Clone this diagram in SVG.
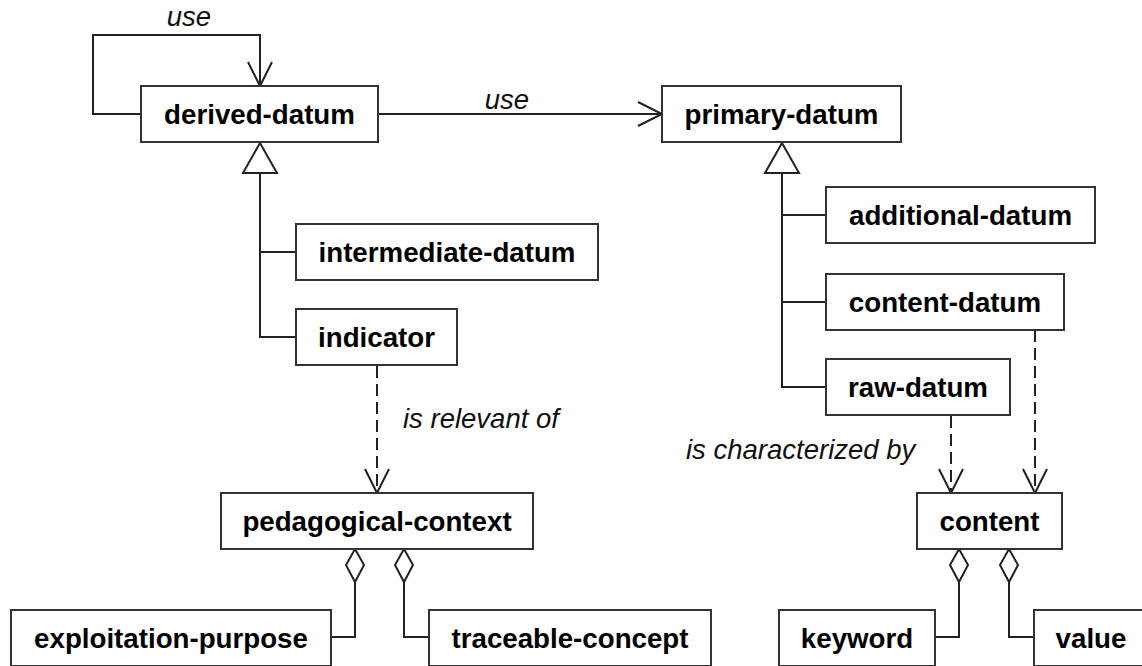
<svg xmlns="http://www.w3.org/2000/svg" width="1142" height="666" viewBox="0 0 1142 666">
<defs>
<style>
.box{fill:#fff;stroke:#333;stroke-width:2}
.t{font-family:"Liberation Sans",Arial,sans-serif;font-weight:bold;font-size:27.7px;fill:#000;text-anchor:middle}
.lbl{font-family:"Liberation Sans",Arial,sans-serif;font-style:italic;font-size:27.5px;fill:#111}
.ln{fill:none;stroke:#222;stroke-width:2}
.dash{fill:none;stroke:#222;stroke-width:2;stroke-dasharray:12,6}
.head{fill:none;stroke:#222;stroke-width:2}
.tri{fill:#fff;stroke:#222;stroke-width:2}
.dia{fill:#fff;stroke:#222;stroke-width:2}
</style>
</defs>
<rect width="1142" height="666" fill="#fff"/>
<g id="connectors">
<path class="ln" d="M141,114 H93 V35 H260 V86"/>
<path class="head" d="M248,62 L260,86 L272,62"/>
<text class="lbl" x="189" y="26" text-anchor="middle">use</text>
<path class="ln" d="M378,114 H662"/>
<path class="head" d="M638,102 L662,114 L638,126"/>
<text class="lbl" x="507" y="109" text-anchor="middle">use</text>
<path class="ln" d="M260,173 V337 H296 M260,252 H296"/>
<polygon class="tri" points="260,143 243,173 277,173"/>
<path class="ln" d="M782,173 V387 H826 M782,215 H826 M782,302 H826"/>
<polygon class="tri" points="782,143 765,173 799,173"/>
<path class="dash" d="M377,366 V492"/>
<path class="head" d="M365,469 L377,493 L389,469"/>
<text class="lbl" x="403" y="428">is relevant of</text>
<path class="dash" d="M951,416 V492"/>
<path class="head" d="M939,469 L951,493 L963,469"/>
<path class="dash" d="M1035,330 V492"/>
<path class="head" d="M1023,469 L1035,493 L1047,469"/>
<text class="lbl" x="686" y="459">is characterized by</text>
<path class="ln" d="M355,582 V637 H331"/>
<polygon class="dia" points="355,549 364,565 355,582 346,565"/>
<path class="ln" d="M404,582 V637 H429"/>
<polygon class="dia" points="404,549 413,565 404,582 395,565"/>
<path class="ln" d="M959,582 V637 H935"/>
<polygon class="dia" points="959,549 968,565 959,582 950,565"/>
<path class="ln" d="M1009,582 V637 H1034"/>
<polygon class="dia" points="1009,549 1018,565 1009,582 1000,565"/>
</g>
<g id="derived-datum"><rect class="box" x="141" y="86" width="237" height="56"/><text class="t" x="259.500" y="124">derived-datum</text></g>
<g id="primary-datum"><rect class="box" x="662" y="86" width="239" height="56"/><text class="t" x="781.500" y="124">primary-datum</text></g>
<g id="intermediate-datum"><rect class="box" x="296" y="224" width="302" height="56"/><text class="t" x="447" y="262">intermediate-datum</text></g>
<g id="indicator"><rect class="box" x="296" y="309" width="161" height="56"/><text class="t" x="376.500" y="347">indicator</text></g>
<g id="additional-datum"><rect class="box" x="826" y="187" width="269" height="56"/><text class="t" x="960.500" y="225">additional-datum</text></g>
<g id="content-datum"><rect class="box" x="826" y="274" width="238" height="56"/><text class="t" x="945" y="312">content-datum</text></g>
<g id="raw-datum"><rect class="box" x="826" y="359" width="184" height="56"/><text class="t" x="918" y="397">raw-datum</text></g>
<g id="pedagogical-context"><rect class="box" x="221" y="493" width="312" height="56"/><text class="t" x="377" y="531">pedagogical-context</text></g>
<g id="content"><rect class="box" x="917" y="493" width="145" height="56"/><text class="t" x="989.500" y="531">content</text></g>
<g id="exploitation-purpose"><rect class="box" x="11" y="610" width="320" height="56"/><text class="t" x="171" y="648">exploitation-purpose</text></g>
<g id="traceable-concept"><rect class="box" x="429" y="610" width="282" height="56"/><text class="t" x="570" y="648">traceable-concept</text></g>
<g id="keyword"><rect class="box" x="779" y="610" width="156" height="56"/><text class="t" x="857" y="648">keyword</text></g>
<g id="value"><rect class="box" x="1034" y="610" width="120" height="56"/><text class="t" x="1091" y="648">value</text></g>
</svg>
